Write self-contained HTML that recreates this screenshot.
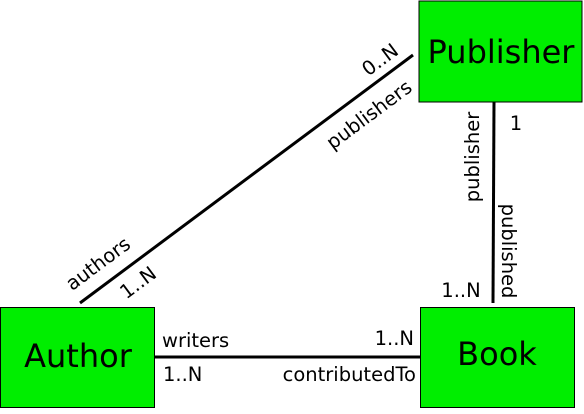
<!DOCTYPE html>
<html><head><style>body{margin:0;background:#fff}</style></head><body>
<svg width="584" height="409" xmlns="http://www.w3.org/2000/svg" font-family="DejaVu Sans, Liberation Sans, sans-serif">
<rect x="419" y="1" width="163" height="101" fill="#00ee00" stroke="#000" stroke-width="1"/>
<rect x="0.5" y="307.5" width="154" height="100" fill="#00ee00" stroke="#000" stroke-width="1"/>
<rect x="420.5" y="307.5" width="154" height="100" fill="#00ee00" stroke="#000" stroke-width="1"/>
<text x="501" y="63" font-size="32" text-anchor="middle">Publisher</text>
<text x="78" y="367" font-size="32" text-anchor="middle">Author</text>
<text x="497" y="365" font-size="32" text-anchor="middle">Book</text>
<g stroke="#000" stroke-width="3" fill="none">
<line x1="80" y1="303" x2="413" y2="55"/>
<line x1="494" y1="102" x2="493" y2="303"/>
<line x1="155" y1="357" x2="420" y2="357"/>
</g>
<g font-size="19.5">
<text transform="translate(384,65) rotate(-36.7)" text-anchor="middle">0..N</text>
<text transform="translate(373,120) rotate(-36.7)" text-anchor="middle">publishers</text>
<text transform="translate(102,269) rotate(-36.7)" text-anchor="middle">authors</text>
<text transform="translate(142,288) rotate(-36.7)" text-anchor="middle">1..N</text>
<text transform="translate(479,157) rotate(-90)" text-anchor="middle">publisher</text>
<text x="516" y="130" text-anchor="middle">1</text>
<text transform="translate(502,251) rotate(90)" text-anchor="middle">published</text>
<text x="461" y="297" text-anchor="middle">1..N</text>
<text x="162" y="347">writers</text>
<text x="414" y="345" text-anchor="end">1..N</text>
<text x="163" y="381">1..N</text>
<text x="416" y="381" text-anchor="end">contributedTo</text>
</g>
</svg>
</body></html>
